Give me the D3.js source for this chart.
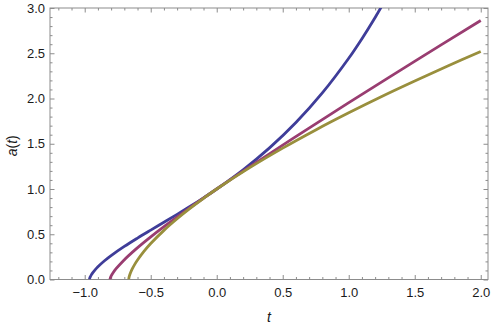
<!DOCTYPE html>
<html>
<head>
<meta charset="utf-8">
<script src="https://cdn.jsdelivr.net/npm/d3@7"></script>
<style>
  body { margin: 0; background: #fff; }
  svg text { font-family: "Liberation Sans", Arial, sans-serif; }
</style>
</head>
<body>
<svg id="chart" width="491" height="324"></svg>
<script>
// values
const blueT = [-0.9641, -0.963, -0.958, -0.95, -0.94, -0.92, -0.9, -0.85, -0.8, -0.7, -0.6, -0.5, -0.4, -0.3, -0.2, -0.1, 0, 0.2, 0.4, 0.6, 0.8, 1.0, 1.1, 1.2, 1.25]
const blueA = [0, 0.0094, 0.0293, 0.0512, 0.0732, 0.1095, 0.1406, 0.2068, 0.2642, 0.3655, 0.4577, 0.5458, 0.6326, 0.7200, 0.8096, 0.9026, 1, 1.2123, 1.4545, 1.7346, 2.0614, 2.4446, 2.6608, 2.8954, 3.0204]

const purpleT = [-0.8088, -0.8076, -0.8060, -0.7994, -0.7862, -0.7639, -0.7068, -0.6102, -0.5163, -0.3921, -0.2307, 0, 0.2400, 0.5722, 0.9886, 1.5080, 2.0]
const purpleA = [0, 0.0097, 0.0174, 0.0397, 0.0723, 0.1164, 0.2081, 0.3380, 0.4516, 0.5919, 0.7646, 1, 1.2362, 1.5542, 1.9431, 2.4186, 2.8625]

const oliveT = [-0.66667, -0.666, -0.663, -0.66, -0.65, -0.64, -0.62, -0.6, -0.55, -0.5, -0.4, -0.3, -0.2, -0.1, 0, 0.25, 0.5, 0.75, 1, 1.25, 1.5, 1.75, 2]
const oliveA = [0, 0.01, 0.0312, 0.0464, 0.0855, 0.117, 0.170, 0.215, 0.313, 0.397, 0.543, 0.671, 0.788, 0.897, 1, 1.236, 1.452, 1.653, 1.842, 2.022, 2.193, 2.359, 2.520]

const xMajor = [-1.0, -0.5, 0.0, 0.5, 1.0, 1.5, 2.0]
const yMajor = [0.0, 0.5, 1.0, 1.5, 2.0, 2.5, 3.0]
const xLabel = "t"
const yLabel = "a(t)"

const svg = d3.select("#chart")
const mLeft = 50, mRight = 488, mTop = 8, mBottom = 279.5

const x = d3.scaleLinear().domain([-1.263, 2.055]).range([mLeft, mRight])
const y = d3.scaleLinear().domain([0, 3]).range([mBottom, mTop])

const frameColor = "#8c8c8c"

// minor ticks every 0.1
const xMinor = d3.range(-12, 21).map(d => d / 10).filter(d => !xMajor.some(m => Math.abs(m - d) < 1e-9))
const yMinor = d3.range(0, 31).map(d => d / 10).filter(d => !yMajor.some(m => Math.abs(m - d) < 1e-9))

function styleAxis(g) {
  g.select(".domain").remove()
  g.selectAll(".tick line").attr("stroke", frameColor).attr("stroke-width", 1)
  g.selectAll(".tick text")
    .attr("fill", "#1a1a1a")
    .style("font-size", "13px")
}

const fmt = d => d3.format(".1f")(d).replace("-", "\u2212")

// bottom
svg.append("g").attr("transform", `translate(0,${mBottom})`)
  .call(d3.axisBottom(x).tickValues(xMajor).tickSize(-4.5).tickPadding(8).tickFormat(fmt))
  .call(styleAxis)
svg.append("g").attr("transform", `translate(0,${mBottom})`)
  .call(d3.axisBottom(x).tickValues(xMinor).tickSize(-2.5).tickFormat(""))
  .call(styleAxis)
// top
svg.append("g").attr("transform", `translate(0,${mTop})`)
  .call(d3.axisTop(x).tickValues(xMajor).tickSize(-4.5).tickFormat(""))
  .call(styleAxis)
svg.append("g").attr("transform", `translate(0,${mTop})`)
  .call(d3.axisTop(x).tickValues(xMinor).tickSize(-2.5).tickFormat(""))
  .call(styleAxis)
// left
svg.append("g").attr("transform", `translate(${mLeft},0)`)
  .call(d3.axisLeft(y).tickValues(yMajor).tickSize(-4.5).tickPadding(5).tickFormat(fmt))
  .call(styleAxis)
svg.append("g").attr("transform", `translate(${mLeft},0)`)
  .call(d3.axisLeft(y).tickValues(yMinor).tickSize(-2.5).tickFormat(""))
  .call(styleAxis)
// right
svg.append("g").attr("transform", `translate(${mRight},0)`)
  .call(d3.axisRight(y).tickValues(yMajor).tickSize(-4.5).tickFormat(""))
  .call(styleAxis)
svg.append("g").attr("transform", `translate(${mRight},0)`)
  .call(d3.axisRight(y).tickValues(yMinor).tickSize(-2.5).tickFormat(""))
  .call(styleAxis)

svg.append("rect")
  .attr("x", mLeft).attr("y", mTop)
  .attr("width", mRight - mLeft).attr("height", mBottom - mTop)
  .attr("fill", "none").attr("stroke", frameColor).attr("stroke-width", 1)

svg.append("clipPath").attr("id", "plotClip")
  .append("rect")
  .attr("x", mLeft).attr("y", mTop)
  .attr("width", mRight - mLeft).attr("height", mBottom - mTop)

const line = d3.line()
  .x(d => x(d[0]))
  .y(d => y(d[1]))
  .curve(d3.curveCatmullRom.alpha(0.5))

const series = [
  { t: blueT, a: blueA, color: "#3f3d99" },
  { t: purpleT, a: purpleA, color: "#993d71" },
  { t: oliveT, a: oliveA, color: "#998f3d" }
]

const plot = svg.append("g").attr("clip-path", "url(#plotClip)")
plot.selectAll("path.curve")
  .data(series)
  .enter().append("path")
  .attr("class", "curve")
  .attr("d", s => line(s.t.map((t, i) => [t, s.a[i]])))
  .attr("fill", "none")
  .attr("stroke", s => s.color)
  .attr("stroke-width", 2.8)

// axis labels
svg.append("text")
  .attr("x", (mLeft + mRight) / 2).attr("y", 322)
  .attr("text-anchor", "middle")
  .style("font-size", "14px").style("font-style", "italic")
  .attr("fill", "#1a1a1a")
  .text(xLabel)

svg.append("text")
  .attr("transform", `translate(17,${(mTop + mBottom) / 2 + 2}) rotate(-90)`)
  .attr("text-anchor", "middle")
  .style("font-size", "14px")
  .attr("fill", "#1a1a1a")
  .html('<tspan font-style="italic">a</tspan>(<tspan font-style="italic">t</tspan>)')
</script>
</body>
</html>
